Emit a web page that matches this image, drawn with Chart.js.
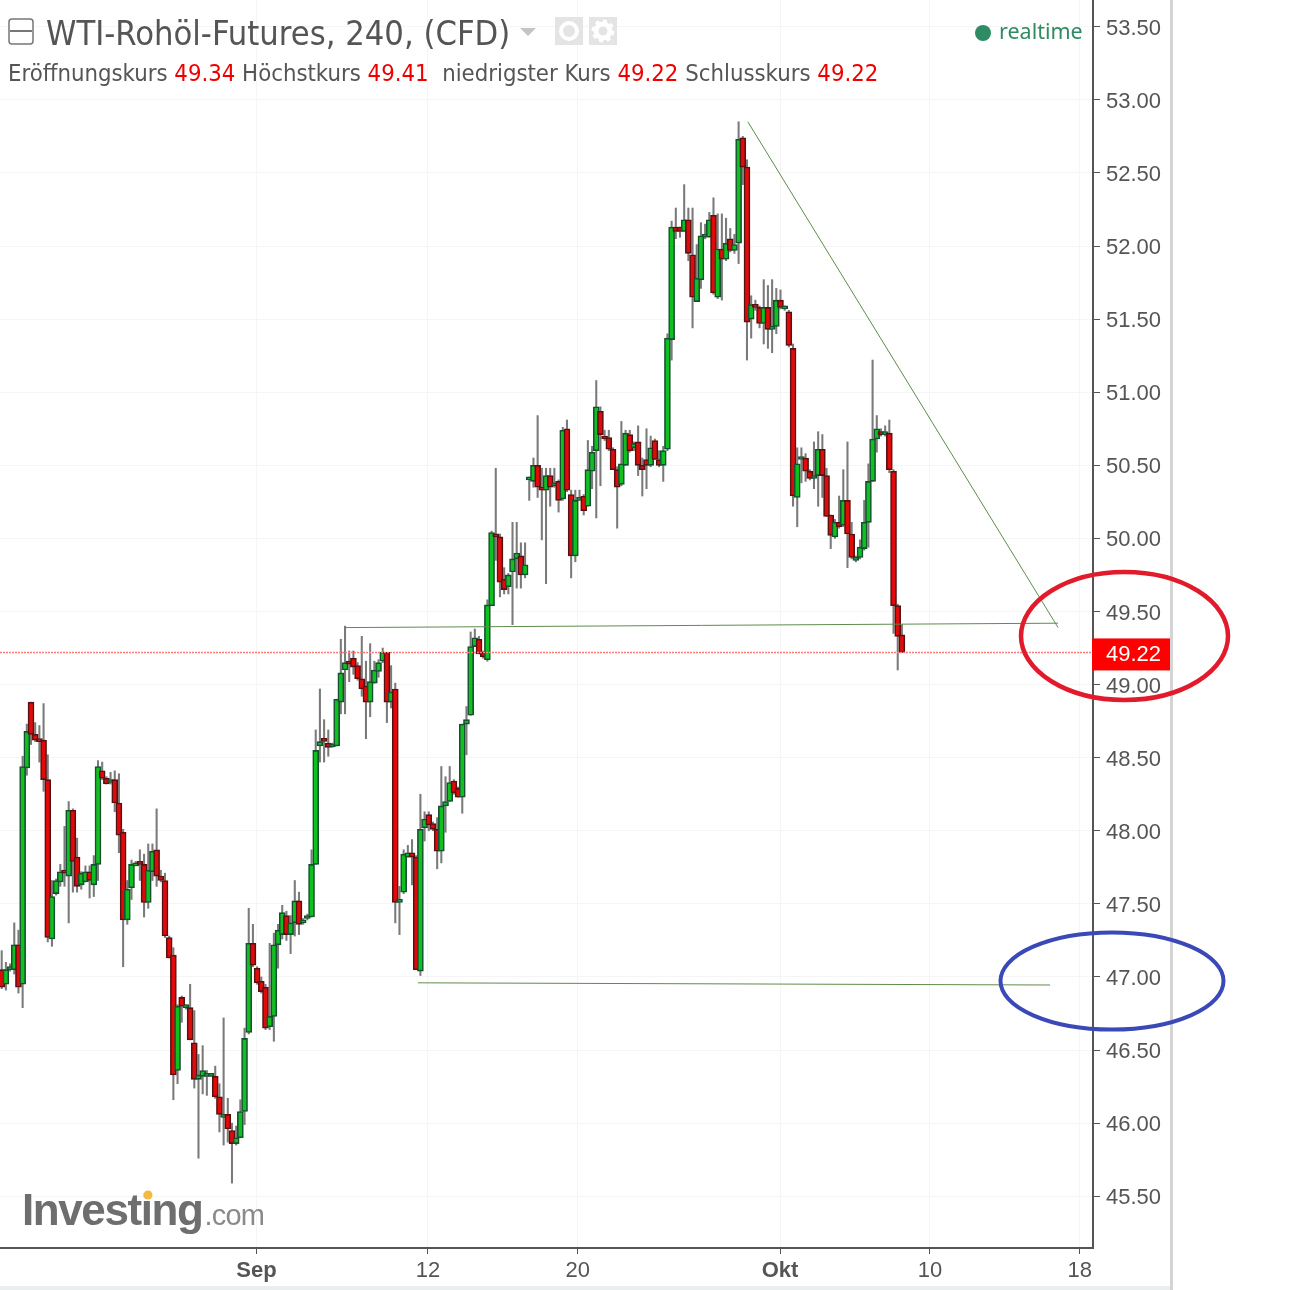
<!DOCTYPE html>
<html lang="de">
<head>
<meta charset="utf-8">
<title>WTI-Rohöl-Futures</title>
<script src="https://cdn.jsdelivr.net/npm/chart.js@4"></script>
<style>
  html, body { margin: 0; padding: 0; background: #fff; }
  #wrap { position: relative; width: 1310px; height: 1290px; overflow: hidden; }
  #chart { position: absolute; left: 0; top: 0; }
  .head { position: absolute; white-space: nowrap; font-family: "DejaVu Sans", sans-serif; font-stretch: condensed; color: #555; }
  .head b { font-weight: normal; color: #e00; }
  #title { left: 46px; top: 13px; font-size: 34.2px; }
  #ohlc { left: 8px; top: 59px; font-size: 23.7px; }
  #rt { left: 999px; top: 16px; font-family: "Noto Sans", sans-serif; font-size: 21.5px; color: #2e8b63; }
  #dot { position: absolute; left: 975px; top: 25px; width: 16px; height: 16px; border-radius: 50%; background: #2e8b63; }
  #logo { position: absolute; left: 22px; top: 1185px; font-family: "Liberation Sans", sans-serif; color: #6e6e6e; white-space: nowrap; filter: blur(0.6px); }
  #logo .a { font-size: 44px; font-weight: bold; letter-spacing: -1.4px; }
  #logo .b { font-size: 29px; letter-spacing: -0.8px; color: #8a8a8a; margin-left: 2px; }
  #edge { position: absolute; left: 1170px; top: 0; width: 3px; height: 1290px; background: #d4d4d4; }
  #foot { position: absolute; left: 0; top: 1286px; width: 1170px; height: 4px; background: #e9eef1; }
  svg { position: absolute; }
</style>
</head>
<body>
<div id="wrap">
  <div id="edge"></div>
  <div id="foot"></div>
  <canvas id="chart" width="1310" height="1290"></canvas>
  <svg style="left:8px;top:18px" width="26" height="27"><rect x="1" y="1" width="24" height="25" rx="3" fill="#fff" stroke="#777" stroke-width="1.5"/><line x1="2" y1="13" x2="24" y2="13" stroke="#777" stroke-width="2"/></svg>
  <div class="head" id="title">WTI-Rohöl-Futures, 240, (CFD)</div>
  <svg style="left:520px;top:28px" width="16" height="8"><path d="M0 0H16L8 8Z" fill="#c4c4c4"/></svg>
  <svg style="left:555px;top:17px" width="62" height="28">
    <rect width="28" height="28" fill="#e4e4e4"/><circle cx="14" cy="14" r="8" fill="none" stroke="#fff" stroke-width="4"/>
    <rect x="34" width="28" height="28" fill="#e4e4e4"/><circle cx="48" cy="14" r="7" fill="none" stroke="#fff" stroke-width="5" /><circle cx="48" cy="14" r="10" fill="none" stroke="#fff" stroke-width="3" stroke-dasharray="4 3.8"/>
  </svg>
  <div class="head" id="ohlc">Eröffnungskurs <b>49.34</b> Höchstkurs <b>49.41</b> &nbsp;niedrigster Kurs <b>49.22</b> Schlusskurs <b>49.22</b></div>
  <div id="dot"></div>
  <div class="head" id="rt">realtime</div>
  <div id="logo"><span class="a">Investing</span><span class="b">.com</span></div>
  <svg style="left:141px;top:1188px" width="14" height="14"><circle cx="7" cy="7" r="4.5" fill="#f4b942"/></svg>
</div>
<script>
const opens = [
  47.05,46.95,47.05,47.05,47.22,46.95,48.43,48.88,48.66,48.62,
  48.62,48.35,47.26,47.57,47.65,47.73,47.69,48.14,47.82,47.63,
  47.65,47.72,47.63,47.77,48.41,48.36,48.33,48.35,48.19,47.99,
  47.39,47.61,47.76,47.775,47.77,47.51,47.72,47.87,47.69,47.66,
  47.27,47.15,46.36,46.86,46.79,46.79,46.55,46.30,46.32,46.32,
  46.32,46.32,46.18,46.04,46.06,45.95,45.86,45.90,46.08,46.62,
  47.23,47.06,46.97,46.93,46.66,46.73,47.22,47.29,47.42,47.29,
  47.37,47.52,47.37,47.40,47.41,47.77,48.58,48.617,48.60,48.575,
  48.58,48.88,49.10,49.16,49.18,49.13,49.04,48.99,48.88,49.01,
  49.09,49.16,49.22,48.88,48.97,47.51,47.58,47.82,47.85,47.82,
  47.04,48.02,48.11,48.05,48.01,47.86,48.17,48.20,48.34,48.29,
  48.23,48.73,48.79,49.26,49.31,49.22,49.17,49.54,50.03,50.01,
  49.72,49.67,49.77,49.86,49.88,49.75,50.40,50.39,50.50,50.35,
  50.33,50.43,50.36,50.39,50.27,50.75,50.30,49.88,50.26,50.29,
  50.22,50.46,50.60,50.87,50.70,50.69,50.61,50.47,50.37,50.50,
  50.71,50.62,50.66,50.50,50.54,50.50,50.67,50.54,50.50,50.61,
  51.36,52.13,52.13,52.10,52.18,51.94,51.62,51.77,52.06,52.06,
  52.21,51.65,51.98,51.91,52.05,51.97,52.02,52.74,52.54,51.50,
  51.60,51.58,51.47,51.58,51.43,51.45,51.63,51.57,51.55,51.30,
  50.28,50.54,50.55,50.46,50.41,50.43,50.61,50.43,50.16,50.01,
  50.11,50.09,50.26,50.03,49.85,49.87,49.93,50.11,50.39,50.68,
  50.72,50.71,50.72,50.46,49.54,49.34
];
const highs = [
  47.18,47.10,47.09,47.37,47.32,48.51,48.73,48.88,48.74,48.72,
  48.87,48.52,47.66,47.67,47.77,48.03,48.20,48.15,47.95,47.72,
  47.76,47.76,47.83,48.48,48.47,48.37,48.40,48.41,48.39,48.01,
  47.66,47.80,47.79,47.87,47.84,47.91,47.91,48.15,47.73,47.71,
  47.28,47.20,46.81,46.87,46.81,46.95,46.77,46.47,46.53,46.36,
  46.34,46.39,46.27,46.72,46.17,46.00,45.98,46.16,46.65,47.47,
  47.36,47.07,47.00,46.95,47.23,47.30,47.36,47.49,47.45,47.42,
  47.66,47.58,47.40,47.43,47.87,48.69,48.97,48.76,48.69,48.60,
  48.90,49.31,49.40,49.23,49.23,49.15,49.33,49.16,49.28,49.16,
  49.17,49.25,49.22,49.13,49.01,47.62,47.87,47.90,47.94,47.83,
  48.25,48.13,48.13,48.06,48.09,48.44,48.37,48.44,48.35,48.30,
  48.73,48.85,49.36,49.38,49.33,49.23,49.58,50.05,50.48,50.03,
  49.80,49.76,50.11,50.11,49.97,49.97,50.42,50.55,50.84,50.48,
  50.48,50.48,50.48,50.40,50.76,50.81,50.33,50.33,50.33,50.30,
  50.67,50.63,51.08,50.90,50.74,50.74,50.62,50.49,50.80,50.74,
  50.74,50.66,50.77,50.55,50.75,50.70,50.68,50.60,50.63,51.40,
  52.17,52.26,52.13,52.42,52.26,52.26,52.01,52.16,52.15,52.23,
  52.33,52.22,52.22,52.19,52.12,52.08,52.85,52.75,52.59,51.66,
  51.63,51.59,51.77,51.73,51.77,51.71,51.70,51.59,51.56,51.33,
  50.62,50.62,50.58,50.47,50.66,50.73,50.71,50.48,50.16,50.13,
  50.29,50.47,50.66,50.11,49.88,49.99,50.26,50.51,51.22,50.84,
  50.75,50.77,50.81,50.47,49.55,49.41
];
const lows = [
  46.92,46.91,47.04,47.02,46.89,46.79,48.38,48.59,48.61,48.47,
  48.27,47.24,47.21,47.56,47.62,47.62,47.37,47.58,47.58,47.60,
  47.65,47.54,47.55,47.66,48.35,48.32,48.32,48.13,47.85,47.07,
  47.36,47.53,47.76,47.66,47.41,47.47,47.66,47.62,47.65,47.27,
  47.13,46.16,46.27,46.69,46.78,46.57,46.24,45.76,46.20,46.19,
  46.32,46.17,45.94,45.85,45.87,45.59,45.85,45.90,45.99,46.61,
  47.07,46.95,46.89,46.64,46.64,46.56,47.06,47.26,47.25,47.16,
  47.28,47.29,47.36,47.39,47.41,47.77,48.47,48.47,48.51,48.57,
  48.58,48.80,48.80,49.02,49.07,49.03,48.92,48.63,48.78,49.01,
  49.05,49.15,48.74,48.84,47.37,47.29,47.57,47.82,47.63,47.05,
  47.01,47.93,48.00,48.00,47.74,47.78,47.99,48.20,48.25,48.23,
  48.12,48.52,48.79,49.26,49.21,49.18,49.16,49.54,49.85,49.60,
  49.62,49.62,49.41,49.66,49.66,49.73,50.26,50.35,50.28,49.99,
  49.69,50.22,50.35,50.18,50.26,50.32,49.73,49.84,50.26,50.16,
  50.22,50.34,50.14,50.36,50.67,50.60,50.47,50.07,50.36,50.50,
  50.59,50.60,50.43,50.29,50.34,50.49,50.54,50.49,50.39,50.60,
  51.22,52.05,52.06,52.10,51.90,51.44,51.62,51.71,52.05,52.06,
  51.67,51.64,51.63,51.90,51.96,51.95,51.88,52.42,51.22,51.37,
  51.56,51.44,51.33,51.30,51.27,51.40,51.57,51.56,51.31,50.22,
  50.08,50.38,50.39,50.40,50.34,50.22,50.28,50.15,49.93,50.00,
  50.07,50.08,49.80,49.86,49.84,49.86,49.92,49.94,50.39,50.59,
  50.70,50.70,50.45,49.35,49.10,49.22
];
const closes = [
  46.93,47.05,47.07,47.22,46.93,48.44,48.68,48.66,48.62,48.61,
  48.35,47.27,47.55,47.66,47.72,47.71,48.14,47.79,47.62,47.71,
  47.72,47.66,47.77,48.44,48.36,48.32,48.35,48.19,47.97,47.39,
  47.60,47.77,47.78,47.77,47.51,47.73,47.86,47.69,47.66,47.28,
  47.13,46.33,46.80,46.80,46.80,46.57,46.30,46.33,46.36,46.33,
  46.33,46.18,46.06,46.06,45.96,45.86,45.90,46.08,46.58,47.23,
  47.08,46.96,46.90,46.65,46.73,47.22,47.32,47.44,47.29,47.37,
  47.52,47.36,47.39,47.42,47.77,48.55,48.61,48.612,48.57,48.585,
  48.90,49.08,49.15,49.14,49.12,49.04,48.97,48.88,49.02,49.10,
  49.15,49.22,48.88,48.95,47.51,47.53,47.84,47.85,47.82,47.05,
  48.01,48.08,48.04,48.01,47.86,48.17,48.20,48.33,48.26,48.23,
  48.73,48.76,49.26,49.32,49.21,49.19,49.545,50.04,50.01,49.70,
  49.65,49.75,49.86,49.90,49.75,49.82,50.41,50.50,50.35,50.33,
  50.43,50.35,50.38,50.26,50.74,50.33,49.88,50.26,50.28,50.19,
  50.47,50.59,50.90,50.71,50.68,50.61,50.47,50.35,50.51,50.72,
  50.60,50.65,50.50,50.47,50.50,50.62,50.54,50.50,50.60,51.37,
  52.13,52.10,52.10,52.18,51.95,51.65,51.78,52.07,52.07,52.18,
  51.68,51.98,51.91,52.02,51.97,52.01,52.73,52.54,51.48,51.60,
  51.58,51.47,51.58,51.43,51.45,51.63,51.58,51.58,51.32,50.29,
  50.51,50.55,50.46,50.41,50.43,50.61,50.43,50.15,50.02,50.11,
  50.08,50.26,50.03,49.87,49.87,49.94,50.11,50.39,50.68,50.75,
  50.71,50.73,50.47,49.54,49.33,49.22
];

const priceTicks = [45.5,46,46.5,47,47.5,48,48.5,49,49.5,50,50.5,51,51.5,52,52.5,53,53.5];
const dateTickPos = [60.86, 101.8, 137.6, 185.9, 221.7, 257.5];
const dateTickText = ['Sep', '12', '20', 'Okt', '10', '18'];

const lastPrice = 49.22;
const trendFall = [{ x: 178.2, y: 52.85 }, { x: 252.3, y: 49.39 }];
const supportUpper = [{ x: 82, y: 49.39 }, { x: 252.3, y: 49.42 }];
const supportLower = [{ x: 99.4, y: 46.96 }, { x: 250.4, y: 46.945 }];

const xMin = -0.406, xMax = 260.64;
const yMin = 45.146, yMax = 53.683;

const UP = '#10c020', UP_EDGE = '#15502f';
const DOWN = '#e00a0a', DOWN_EDGE = '#5a1010';
const isUp = i => closes[i] >= opens[i];

const wicks = highs.map((h, i) => ({ x: i, y: [lows[i], h] }));
const bodies = opens.map((o, i) => ({ x: i, y: [o, closes[i]] }));

function straightLine(points, color, dash, width) {
  return {
    type: 'line', data: points, borderColor: color, borderWidth: width || 1, borderDash: dash || [],
    pointRadius: 0, tension: 0, order: 1, fill: false
  };
}

// price flag and the two hand drawn rings
const overlay = {
  id: 'overlay',
  afterDraw(chart) {
    const c = chart.ctx;
    const y = chart.scales.y.getPixelForValue(lastPrice);
    c.save();
    c.fillStyle = '#ff0000';
    c.fillRect(1092, y - 14, 78, 32);
    c.fillStyle = '#fff';
    c.font = '22px "Liberation Sans"';
    c.textBaseline = 'middle';
    c.fillText(lastPrice.toFixed(2), 1106, y + 3);
    c.lineWidth = 4.5;
    c.strokeStyle = '#e21b2c';
    c.beginPath();
    c.ellipse(1124.5, 636, 103.5, 64, 0, 0, Math.PI * 2);
    c.stroke();
    c.lineWidth = 4;
    c.strokeStyle = '#3b48b8';
    c.beginPath();
    c.ellipse(1112, 981, 111.5, 48.5, 0, 0, Math.PI * 2);
    c.stroke();
    c.restore();
  }
};

new Chart(document.getElementById('chart'), {
  type: 'bar',
  data: {
    datasets: [
      {
        data: wicks, backgroundColor: '#7a7a7a', borderWidth: 0,
        barThickness: 1.4, grouped: false, order: 3
      },
      {
        data: bodies,
        backgroundColor: ctx => (isUp(ctx.dataIndex) ? UP : DOWN),
        borderColor: ctx => (isUp(ctx.dataIndex) ? UP_EDGE : DOWN_EDGE),
        borderWidth: 1.6, borderSkipped: false, barThickness: 6, minBarLength: 3,
        grouped: false, order: 2
      },
      straightLine([{ x: xMin, y: lastPrice }, { x: xMax, y: lastPrice }], '#ff7a7a', [2, 1], 1.5),
      straightLine(trendFall, '#5d8c4a'),
      straightLine(supportUpper, '#5d8c4a'),
      straightLine(supportLower, '#5d8c4a')
    ]
  },
  options: {
    responsive: false,
    animation: false,
    devicePixelRatio: 1,
    layout: { padding: 0 },
    plugins: { legend: { display: false }, tooltip: { enabled: false } },
    scales: {
      x: {
        type: 'linear', min: xMin, max: xMax, offset: false,
        afterBuildTicks(s) { s.ticks = dateTickPos.map(v => ({ value: v })); },
        afterFit(s) { s.height = 42; s.paddingLeft = 0; s.paddingRight = 0; },
        grid: { offset: false, color: '#f5f5f5', tickColor: '#555', tickLength: 6 },
        border: { color: '#555', width: 2 },
        ticks: {
          autoSkip: false, maxRotation: 0, padding: 4, color: '#555',
          font: ctx => ({
            family: '"Liberation Sans"', size: 22,
            weight: ctx.index === 0 || ctx.index === 3 ? 'bold' : 'normal'
          }),
          callback: (v, i) => dateTickText[i]
        }
      },
      y: {
        position: 'right', min: yMin, max: yMax,
        afterBuildTicks(s) { s.ticks = priceTicks.map(v => ({ value: v })); },
        afterFit(s) { s.width = 217; s.paddingTop = 0; s.paddingBottom = 0; },
        grid: { color: '#f5f5f5', tickColor: '#555', tickLength: 7 },
        border: { color: '#555', width: 2 },
        ticks: {
          padding: 6, color: '#555', autoSkip: false, labelOffset: 2,
          font: { family: '"Liberation Sans"', size: 22 },
          callback: v => Number(v).toFixed(2)
        }
      }
    }
  },
  plugins: [overlay]
});
</script>
</body>
</html>
